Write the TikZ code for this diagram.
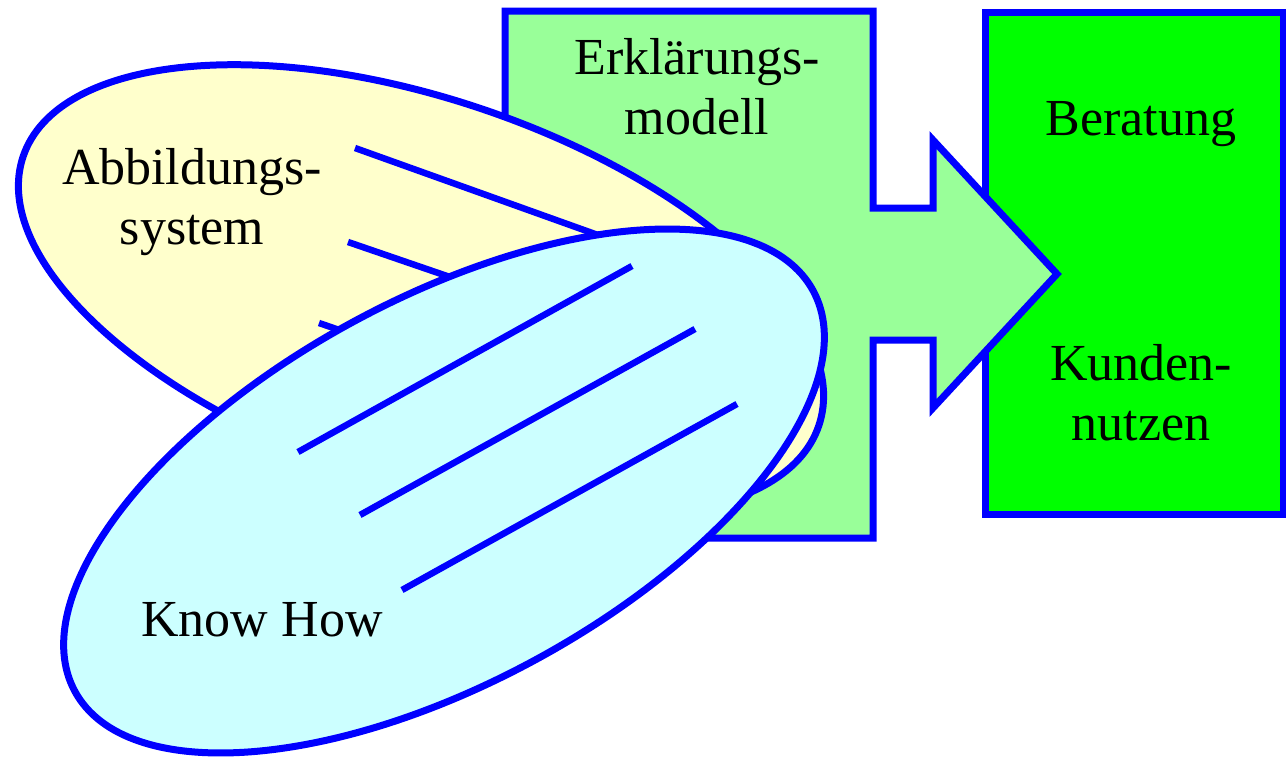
\documentclass[tikz,border=0pt]{standalone}
\usepackage{fontspec}
\setmainfont{Liberation Serif}
\usetikzlibrary{shapes.geometric}
\definecolor{frameblue}{HTML}{0000FF}
\definecolor{modelgreen}{HTML}{99FF99}
\definecolor{goalgreen}{HTML}{00FF00}
\definecolor{mapyellow}{HTML}{FFFFCC}
\definecolor{knowcyan}{HTML}{CCFFFF}

\begin{document}
\begin{tikzpicture}[
  x=1pt, y=-1pt,
  font=\fontsize{52}{60}\selectfont,
  edge/.style={draw=frameblue, line width=7pt},
  lbl/.style={align=center, inner sep=0pt},
  blob/.style={edge, ellipse, inner sep=0pt, minimum width=840pt,
               minimum height=384pt},
  hatch/.style={frameblue, line width=6.5pt}
]
\useasboundingbox (0,0) rectangle (1286,758);

% target box first, the arrow of the model overlaps it
\draw[edge, fill=goalgreen] (985,12) rectangle (1283,514);
\node[lbl] (ber) at (1141,124) {Beratung};
\node[lbl] (kdn) at (1141,393) {Kunden-\\nutzen};

\draw[edge, fill=modelgreen] (505,11) -- (873,11) -- (873,208) -- (933,208)
  -- (933,140) -- (1057,274) -- (933,408) -- (933,340) -- (873,340)
  -- (873,538) -- (505,538) -- cycle;
\node[lbl] (erk) at (697,87) {Erklärungs-\\modell};

\node[blob, fill=mapyellow, rotate=-18.7] (abb) at (421,291) {};
\draw[hatch] (355,148) -- (690,268);
\draw[hatch] (348,242) -- (648,345);
\draw[hatch] (319,323) -- (600,420);
\node[lbl] (abbt) at (192,202) {Abbildungs-\\system};

\node[blob, fill=knowcyan, rotate=28.5] (kh) at (444,491) {};
\draw[hatch] (298,452) -- (632,266);
\draw[hatch] (360,515) -- (695,329);
\draw[hatch] (402,590) -- (737,404);
\node[lbl] (kht) at (262,620) {Know How};
\end{tikzpicture}
\end{document}
